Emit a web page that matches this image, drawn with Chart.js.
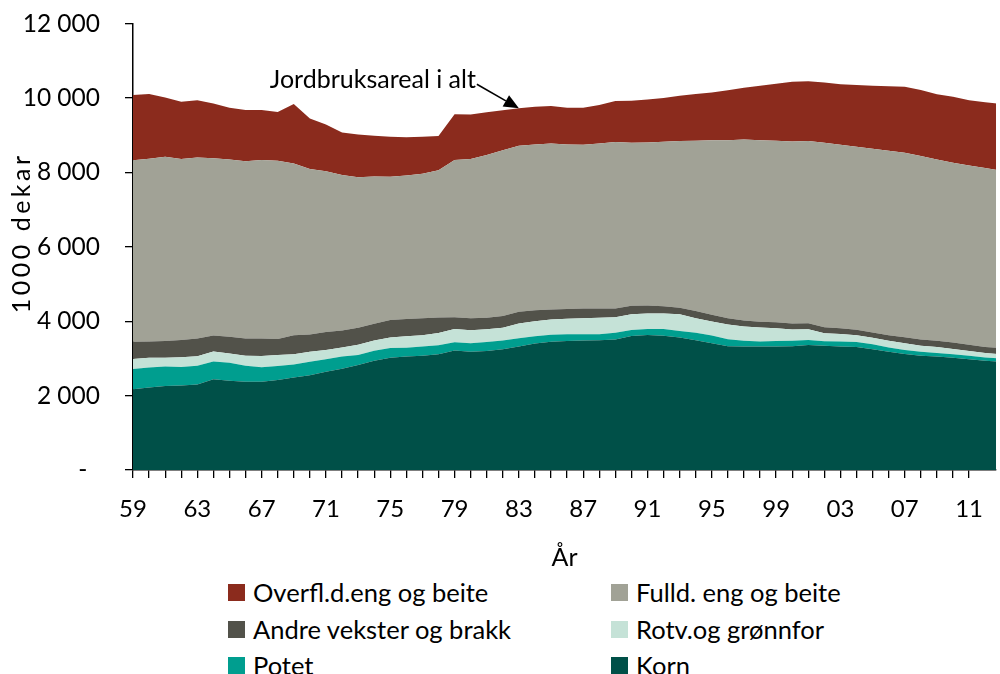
<!DOCTYPE html>
<html>
<head>
<meta charset="utf-8">
<script src="https://cdn.jsdelivr.net/npm/chart.js@4.4.1/dist/chart.umd.min.js"></script>
<style>
  html, body { margin: 0; padding: 0; background: #fff; overflow: hidden; }
  #wrap { position: relative; width: 1000px; height: 674px; overflow: hidden; }
  #c { position: absolute; left: 0; top: -16px; }
  #legend { position: absolute; left: 0; top: 577px; width: 1000px; font-family: Lato, "Open Sans", sans-serif; font-size: 25.5px; color: #000; }
  .item { position: absolute; display: flex; align-items: center; white-space: nowrap; }
  .sw { width: 17px; height: 17px; margin-right: 8px; }
</style>
</head>
<body>
<div id="wrap">
  <canvas id="c" width="1000" height="589"></canvas>
  <div id="legend"></div>
</div>
<script>
// ---- data (1000 dekar) ----
const years = [1959,1960,1961,1962,1963,1964,1965,1966,1967,1968,1969,1970,1971,1972,1973,1974,1975,1976,1977,1978,1979,1980,1981,1982,1983,1984,1985,1986,1987,1988,1989,1990,1991,1992,1993,1994,1995,1996,1997,1998,1999,2000,2001,2002,2003,2004,2005,2006,2007,2008,2009,2010,2011,2012,2013];
const korn = [2170,2220,2260,2270,2300,2440,2400,2370,2370,2420,2490,2550,2640,2720,2820,2940,3020,3050,3070,3110,3210,3180,3200,3250,3320,3400,3450,3470,3480,3490,3510,3600,3630,3610,3560,3490,3410,3330,3320,3320,3320,3330,3360,3340,3320,3310,3250,3180,3120,3070,3050,3020,2980,2940,2910];
const potet = [546,537,520,502,500,475,484,430,394,376,349,358,340,331,269,269,260,240,251,242,224,230,242,235,225,197,185,180,170,161,179,161,161,179,180,197,206,188,152,134,150,143,134,125,134,134,134,116,107,107,95,95,90,85,85];
const rotv = [270,260,240,260,260,270,250,270,300,295,275,270,245,245,280,270,280,305,305,330,355,350,340,340,395,405,410,415,430,440,415,430,420,420,445,390,380,395,385,380,340,305,290,210,200,180,170,180,180,165,160,140,130,120,115];
const andre = [465,440,450,465,475,430,450,465,475,430,510,465,485,455,455,455,470,465,455,420,320,320,315,315,315,290,270,265,260,250,240,225,210,195,180,195,180,165,160,150,160,160,160,160,160,150,145,150,160,170,170,175,165,165,165];
const fulld = [4880,4910,4950,4865,4870,4770,4765,4765,4795,4795,4620,4450,4325,4180,4050,3960,3855,3860,3885,3955,4225,4280,4370,4460,4465,4460,4465,4425,4405,4440,4475,4385,4385,4420,4480,4580,4690,4790,4870,4885,4885,4895,4900,4965,4930,4915,4940,4960,4965,4930,4875,4830,4825,4810,4775];
const overfl = [1750,1740,1595,1540,1540,1470,1390,1380,1345,1310,1595,1360,1255,1145,1145,1090,1075,1025,995,925,1230,1200,1150,1075,1005,1015,1005,985,995,1030,1100,1130,1155,1180,1220,1255,1285,1345,1390,1460,1530,1605,1610,1620,1630,1665,1695,1735,1775,1775,1750,1775,1755,1765,1790];

const seriesNames = ['Korn','Potet','Rotv.og grønnfor','Andre vekster og brakk','Fulld. eng og beite','Overfl.d.eng og beite'];
const seriesColors = ['#005048','#009E8F','#C5E2D7','#52524A','#A1A296','#8B2B1D'];
const xTickLabels = ['59','63','67','71','75','79','83','87','91','95','99','03','07','11'];
const yTickLabels = ['-','2 000','4 000','6 000','8 000','10 000','12 000'];
const legendOrder = [5,4,3,2,1,0];
const annotationText = 'Jordbruksareal i alt';
const annotationYear = 1983;
const yTitleText = '1000 dekar';
const xTitleText = 'År';

const FONT = 'Lato, "Open Sans", sans-serif';
const seriesData = [korn, potet, rotv, andre, fulld, overfl];

const datasets = seriesData.map((arr, k) => ({
  label: seriesNames[k],
  data: arr.map((v, i) => ({ x: years[i], y: v })),
  backgroundColor: seriesColors[k],
  borderColor: seriesColors[k],
  borderWidth: 0,
  pointRadius: 0,
  tension: 0,
  fill: k === 0 ? 'origin' : '-1'
}));

const annotationPlugin = {
  id: 'annot',
  afterDatasetsDraw(chart) {
    const ctx = chart.ctx;
    const xs = chart.scales.x, ys = chart.scales.y;
    const idx = years.indexOf(annotationYear);
    const total = seriesData.reduce((s, a) => s + a[idx], 0);
    const tipX = xs.getPixelForValue(annotationYear);
    const tipY = ys.getPixelForValue(total);
    ctx.save();
    ctx.fillStyle = '#000';
    ctx.font = '25px ' + FONT;
    ctx.textBaseline = 'middle';
    ctx.textAlign = 'right';
    const tx = tipX - 43, ty = tipY - 28;
    ctx.fillText(annotationText, tx, ty);
    // arrow
    const sx = tx + 1, sy = ty + 4;
    const ang = Math.atan2(tipY - sy, tipX - sx);
    const hl = 15, hw = 6.5;
    const bx = tipX - hl * Math.cos(ang), by = tipY - hl * Math.sin(ang);
    ctx.strokeStyle = '#000';
    ctx.lineWidth = 1.6;
    ctx.beginPath(); ctx.moveTo(sx, sy); ctx.lineTo(bx, by); ctx.stroke();
    ctx.beginPath();
    ctx.moveTo(tipX, tipY);
    ctx.lineTo(bx + hw * Math.sin(ang), by - hw * Math.cos(ang));
    ctx.lineTo(bx - hw * Math.sin(ang), by + hw * Math.cos(ang));
    ctx.closePath(); ctx.fill();
    // y axis title (rotated, slightly letter-spaced), centred relative to the plot
    const cy = (chart.chartArea.top + chart.chartArea.bottom) / 2 - 14;
    ctx.font = '25px ' + FONT;
    ctx.textAlign = 'center';
    ctx.textBaseline = 'middle';
    try { ctx.letterSpacing = '3.5px'; } catch (e) {}
    ctx.translate(22, cy);
    ctx.rotate(-Math.PI / 2);
    ctx.fillText(yTitleText, 0, 0);
    ctx.restore();
  }
};

new Chart(document.getElementById('c'), {
  type: 'line',
  data: { datasets },
  plugins: [annotationPlugin],
  options: {
    responsive: false,
    animation: false,
    layout: { padding: { left: 0, right: 0, top: 8, bottom: 0 } },
    plugins: { legend: { display: false }, tooltip: { enabled: false } },
    scales: {
      x: {
        type: 'linear',
        min: 1959,
        max: 2012.68,
        grid: { display: true, drawOnChartArea: false, drawTicks: true, tickLength: 8, color: '#000', lineWidth: 1.3 },
        border: { display: true, color: '#000', width: 1.5 },
        ticks: {
          stepSize: 1, autoSkip: false, maxRotation: 0, padding: 17, color: '#000',
          font: { family: FONT, size: 24 },
          callback: (v) => ((v - 1959) % 4 === 0 ? xTickLabels[(v - 1959) / 4] || '' : '')
        },
        title: { display: true, text: xTitleText, color: '#000', font: { family: FONT, size: 25 }, padding: { top: 0, bottom: 0 } },
        afterBuildTicks: (s) => { s.ticks = s.ticks.filter(t => Number.isInteger(t.value)); },
        afterFit: (s) => { s.height = 103; }
      },
      y: {
        stacked: true,
        min: 0,
        max: 12000,
        grid: { display: true, drawOnChartArea: false, drawTicks: true, tickLength: 8, color: '#000', lineWidth: 1.3 },
        border: { display: true, color: '#000', width: 1.5 },
        ticks: {
          stepSize: 2000, padding: 25, color: '#000',
          font: { family: FONT, size: 24.5 },
          callback: (v) => { const l = yTickLabels[v / 2000]; return v === 0 ? l + '\u00A0\u00A0' : l; }
        },
        title: { display: false },
        afterFit: (s) => { s.width = 133; }
      }
    }
  }
});

// HTML legend (2 columns x 3 rows)
const leg = document.getElementById('legend');
const colX = [228, 611];
const rowY = [0, 37, 73];
legendOrder.forEach((k, n) => {
  const d = document.createElement('div');
  d.className = 'item';
  d.style.left = colX[n % 2] + 'px';
  d.style.top = rowY[Math.floor(n / 2)] + 'px';
  d.innerHTML = '<span class="sw" style="background:' + seriesColors[k] + '"></span><span>' + seriesNames[k] + '</span>';
  leg.appendChild(d);
});
</script>
</body>
</html>
